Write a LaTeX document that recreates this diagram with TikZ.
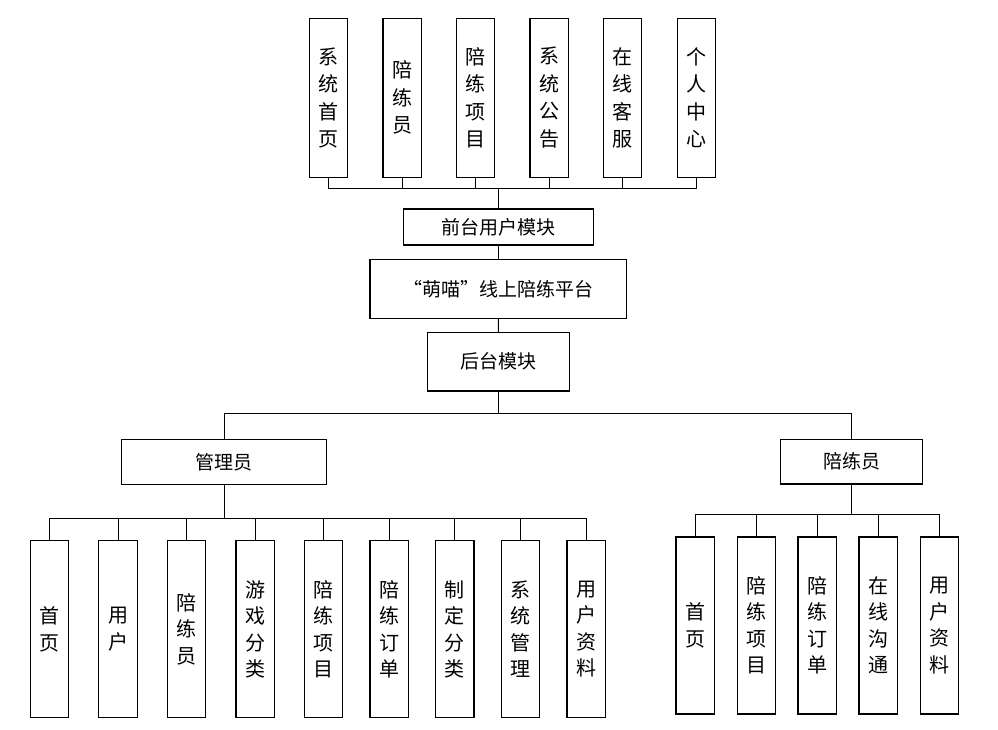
\documentclass[tikz,border=0pt]{standalone}
\usepackage{fontspec}
\setmainfont{Noto Sans CJK SC}
\begin{document}
\begin{tikzpicture}[x=1pt,y=-1pt,
  box/.style={draw, line width=1.2pt, inner sep=0pt, font=\fontsize{19}{27}\selectfont, align=center},
  vbox/.style={box, font=\fontsize{20}{27.5}\selectfont, minimum width=38.3pt, minimum height=159pt},
  lbox/.style={box, font=\fontsize{20}{26.5}\selectfont, minimum width=38.3pt, minimum height=177pt},
  link/.style={line width=1pt}]
\useasboundingbox (0,0) rectangle (998,729);
% top boxes
\node[vbox] (t1) at (328.5,97.8) {系\\统\\首\\页};
\node[vbox] (t2) at (402.2,97.8) {陪\\练\\员};
\node[vbox] (t3) at (475.7,97.8) {陪\\练\\项\\目};
\node[vbox] (t4) at (549.2,97.8) {系\\统\\公\\告};
\node[vbox] (t5) at (622.5,97.8) {在\\线\\客\\服};
\node[vbox] (t6) at (696.3,97.8) {个\\人\\中\\心};
% middle
\node[box, minimum width=190pt, minimum height=36pt] (front) at (498.3,227) {前台用户模块};
\node[box, minimum width=256.7pt, minimum height=59pt] (plat) at (498.3,288.8) {“萌喵”线上陪练平台};
\node[box, minimum width=141.6pt, minimum height=58.7pt] (back) at (498.5,361.7) {后台模块};
\node[box, minimum width=204.3pt, minimum height=45pt] (admin) at (224,461.8) {管理员};
\node[box, minimum width=141.6pt, minimum height=44.7pt] (coach) at (851.5,461.7) {陪练员};
% bottom left
\node[lbox] (a1) at (49.5,629.2) {首\\页};
\node[lbox] (a2) at (118,629.2) {用\\户};
\node[lbox] (a3) at (186.7,629.2) {陪\\练\\员};
\node[lbox] (a4) at (255.2,629.2) {游\\戏\\分\\类};
\node[lbox] (a5) at (323.7,629.2) {陪\\练\\项\\目};
\node[lbox] (a6) at (389.2,629.2) {陪\\练\\订\\单};
\node[lbox] (a7) at (454.8,629.2) {制\\定\\分\\类};
\node[lbox] (a8) at (520.5,629.2) {系\\统\\管\\理};
\node[lbox] (a9) at (586.2,629.2) {用\\户\\资\\料};
% bottom right
\node[lbox] (c1) at (695.2,625.4) {首\\页};
\node[lbox] (c2) at (756.5,625.4) {陪\\练\\项\\目};
\node[lbox] (c3) at (817.2,625.4) {陪\\练\\订\\单};
\node[lbox] (c4) at (878.2,625.4) {在\\线\\沟\\通};
\node[lbox] (c5) at (939.7,625.4) {用\\户\\资\\料};
% bus coordinates
\coordinate (tb) at (498.3,188.3);
\coordinate (mb) at (498.5,413.3);
\coordinate (ab) at (224,518.3);
\coordinate (cb) at (851.5,514.3);
% connectors
\draw[link] (front.north) -- (tb);
\foreach \i in {1,...,6} \draw[link] (t\i.south) |- (tb);
\draw[link] (front.south) -- (plat.north);
\draw[link] (plat.south) -- (back.north);
\draw[link] (back.south) -- (mb);
\draw[link] (admin.north) |- (mb);
\draw[link] (coach.north) |- (mb);
\draw[link] (admin.south) -- (ab);
\foreach \i in {1,...,9} \draw[link] (a\i.north) |- (ab);
\draw[link] (coach.south) -- (cb);
\foreach \i in {1,...,5} \draw[link] (c\i.north) |- (cb);
\end{tikzpicture}
\end{document}
